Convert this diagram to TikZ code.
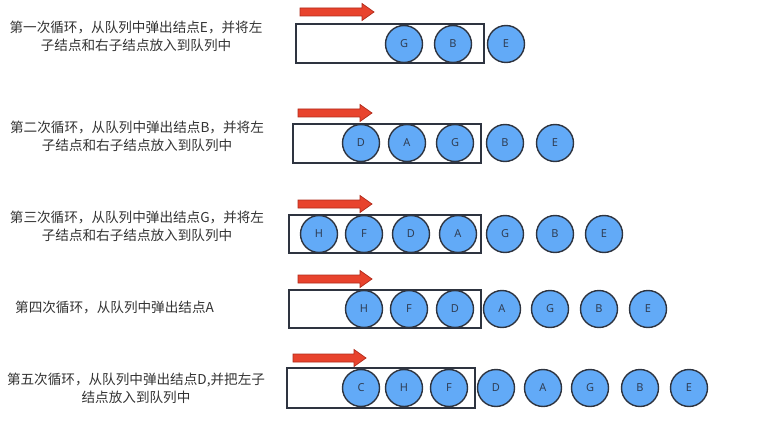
\documentclass[tikz,border=0pt]{standalone}
\usepackage{fontspec}
\newfontfamily\cjk{Noto Sans CJK SC}
\newfontfamily\lat{Noto Sans}
\definecolor{txt}{HTML}{333333}
\definecolor{ballfill}{HTML}{62AAF7}
\definecolor{ballline}{HTML}{2E3440}
\definecolor{letter}{HTML}{2F3E55}
\definecolor{arrfill}{HTML}{E8432D}
\definecolor{arrline}{HTML}{B02A1A}
\tikzset{
  label/.style={font=\cjk\fontsize{13.6}{18}\selectfont, text=txt, align=center, inner sep=0pt},
  ball/.style={circle, draw=ballline, line width=1.4pt, fill=ballfill, minimum size=37pt, inner sep=0pt, font=\lat\fontsize{11}{12}\selectfont, text=letter},
  queue/.style={draw=ballline, line width=1.3pt, fill=white, inner sep=0pt},
  redarrow/.style={fill=arrfill, draw=arrline, line width=0.7pt},
}
\newcommand\redarr[3]{%
  \draw[redarrow] (#1,#3-4) -- (#2-12,#3-4) -- (#2-12,#3-8.5) -- (#2,#3) -- (#2-12,#3+8.5) -- (#2-12,#3+4) -- (#1,#3+4) -- cycle;}
\begin{document}
\begin{tikzpicture}[x=1pt,y=-1pt]
\useasboundingbox (0,0) rectangle (781,422);
% Row 1
\node[label] (t1) at (136,36) {第一次循环，从队列中弹出结点E，并将左\\子结点和右子结点放入到队列中};
\redarr{300}{374}{12}
\node[queue, minimum width=188pt, minimum height=39pt] (q1) at (390,43.5) {};
\node[ball] (r1g) at (404,44) {G};
\node[ball] (r1b) at (453,44) {B};
\node[ball] (r1e) at (506,44) {E};
% Row 2
\node[label] (t2) at (137,136) {第二次循环，从队列中弹出结点B，并将左\\子结点和右子结点放入到队列中};
\redarr{298}{372}{113}
\node[queue, minimum width=188pt, minimum height=39pt] (q2) at (387,143.5) {};
\node[ball] (r2d) at (361,143) {D};
\node[ball] (r2a) at (407,143) {A};
\node[ball] (r2g) at (455,143) {G};
\node[ball] (r2b) at (505,143) {B};
\node[ball] (r2e) at (555,143) {E};
% Row 3
\node[label] (t3) at (137,226) {第三次循环，从队列中弹出结点G，并将左\\子结点和右子结点放入到队列中};
\redarr{298}{372}{204}
\node[queue, minimum width=192pt, minimum height=38pt] (q3) at (385,234) {};
\node[ball] (r3h) at (319,234) {H};
\node[ball] (r3f) at (364,234) {F};
\node[ball] (r3d) at (411,234) {D};
\node[ball] (r3a) at (458,234) {A};
\node[ball] (r3g) at (505,234) {G};
\node[ball] (r3b) at (555,234) {B};
\node[ball] (r3e) at (604,234) {E};
% Row 4
\node[label, anchor=west] (t4) at (15,307) {第四次循环，从队列中弹出结点A};
\redarr{298}{372}{279}
\node[queue, minimum width=192pt, minimum height=38pt] (q4) at (385,309) {};
\node[ball] (r4h) at (364,309) {H};
\node[ball] (r4f) at (409,309) {F};
\node[ball] (r4d) at (455,309) {D};
\node[ball] (r4a) at (502,309) {A};
\node[ball] (r4g) at (550,309) {G};
\node[ball] (r4b) at (599,309) {B};
\node[ball] (r4e) at (648,309) {E};
% Row 5
\node[label] (t5) at (136,388) {第五次循环，从队列中弹出结点D,并把左子\\结点放入到队列中};
\redarr{293}{366}{358}
\node[queue, minimum width=188pt, minimum height=40pt] (q5) at (381,388) {};
\node[ball] (r5c) at (361,388) {C};
\node[ball] (r5h) at (404,388) {H};
\node[ball] (r5f) at (449,388) {F};
\node[ball] (r5d) at (496,388) {D};
\node[ball] (r5a) at (543,388) {A};
\node[ball] (r5g) at (590,388) {G};
\node[ball] (r5b) at (640,388) {B};
\node[ball] (r5e) at (689,388) {E};
\end{tikzpicture}
\end{document}
